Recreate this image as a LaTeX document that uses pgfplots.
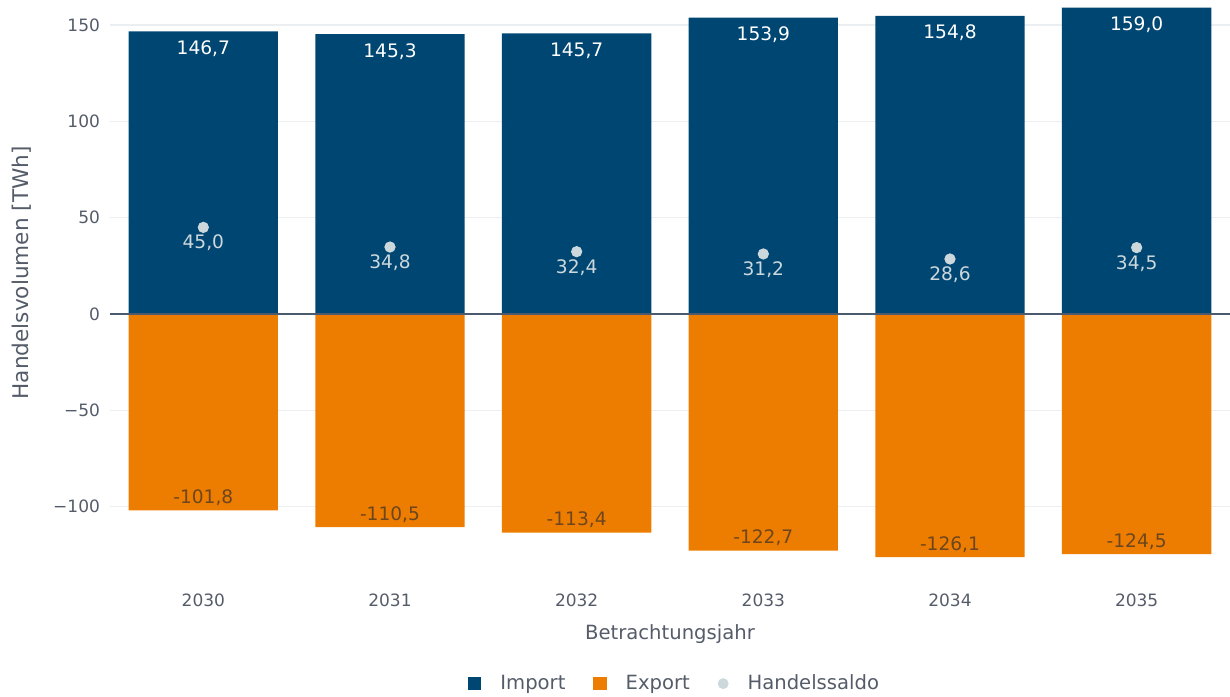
\documentclass[border=0pt]{standalone}
\usepackage{fontspec}
\setmainfont{DejaVu Sans}
\usepackage{pgfplots}
\pgfplotsset{compat=1.18}
\definecolor{imp}{RGB}{0,70,115}
\definecolor{expo}{RGB}{237,125,0}
\definecolor{sal}{RGB}{205,216,220}
\definecolor{txt}{RGB}{85,92,105}
\definecolor{explab}{RGB}{110,70,30}
\definecolor{gridc}{RGB}{236,239,241}
\definecolor{zl}{RGB}{75,90,110}
\begin{document}
\begin{tikzpicture}
\path[use as bounding box] (-55pt,-66pt) rectangle (560pt,282.3pt);
\begin{axis}[
  at={(0pt,0pt)}, anchor=south west,
  scale only axis, width=560pt, height=282.3pt,
  xmin=-0.5, xmax=5.5, ymin=-130, ymax=163,
  xtick={0,1,2,3,4,5}, xticklabels={2030,2031,2032,2033,2034,2035},
  ytick={-100,-50,0,50,100,150},
  yticklabels={−100,−50,0,50,100,150},
  axis line style={draw=none}, major tick style={draw=none},
  ymajorgrids, grid style={draw=gridc, line width=0.6pt},
  ticklabel style={font=\fontsize{8.5}{10}\selectfont, text=txt},
  xticklabel style={anchor=center, yshift=-18pt},
  yticklabel style={anchor=east, xshift=-1.5pt},
  xlabel={Betrachtungsjahr}, ylabel={Handelsvolumen [TWh]},
  every axis x label/.style={at={(axis description cs:0.5,-0.1222)}, anchor=center, font=\fontsize{9.8}{12}\selectfont, text=txt},
  every axis y label/.style={at={(axis description cs:-0.0786,0.517)}, rotate=90, anchor=center, font=\fontsize{10.8}{12}\selectfont, text=txt},
  legend columns=3,
  legend style={at={(axis description cs:0.505,-0.2108)}, anchor=center, draw=none, fill=none,
    font=\fontsize{9.8}{12}\selectfont, text=txt,
    /tikz/every odd column/.append style={column sep=7.5pt},
    /tikz/every even column/.append style={column sep=12pt}},
]
\addplot[ybar, bar width=0.8, bar shift=0pt, fill=imp, draw=none,
  nodes near coords={\pgfmathprintnumber[fixed,fixed zerofill,precision=1,use comma,assume math mode=true]{\pgfplotspointmeta}},
  every node near coord/.append style={font=\fontsize{9.3}{11}\selectfont, text=white, inner sep=0pt, text height=7pt, text depth=0pt, yshift=-11.7pt},
  legend image code/.code={\fill[imp] (0pt,-3.3pt) rectangle (6.6pt,3.3pt);}]
  coordinates {(0,146.7) (1,145.3) (2,145.7) (3,153.9) (4,154.8) (5,159.0)};
\addlegendentry{Import}
\addplot[ybar, bar width=0.8, bar shift=0pt, fill=expo, draw=none,
  nodes near coords={\pgfmathprintnumber[fixed,fixed zerofill,precision=1,use comma,assume math mode=true]{\pgfplotspointmeta}},
  every node near coord/.append style={font=\fontsize{9.3}{11}\selectfont, text=explab, inner sep=0pt, text height=7pt, text depth=0pt, yshift=10.6pt},
  legend image code/.code={\fill[expo] (0pt,-3.3pt) rectangle (6.6pt,3.3pt);}]
  coordinates {(0,-101.8) (1,-110.5) (2,-113.4) (3,-122.7) (4,-126.1) (5,-124.5)};
\addlegendentry{Export}
\addplot[only marks, mark=*, mark size=2.6pt, color=sal,
  nodes near coords={\pgfmathprintnumber[fixed,fixed zerofill,precision=1,use comma,assume math mode=true]{\pgfplotspointmeta}},
  every node near coord/.append style={font=\fontsize{9.3}{11}\selectfont, text=sal, inner sep=0pt, text height=7pt, text depth=0pt, yshift=-10.9pt},
  legend image code/.code={\fill[sal] (3.3pt,0pt) circle (2.5pt);}]
  coordinates {(0,45.0) (1,34.8) (2,32.4) (3,31.2) (4,28.6) (5,34.5)};
\addlegendentry{Handelssaldo}
\draw[zl, line width=0.9pt] (axis cs:-0.5,0) -- (axis cs:5.5,0);
\end{axis}
\end{tikzpicture}
\end{document}
